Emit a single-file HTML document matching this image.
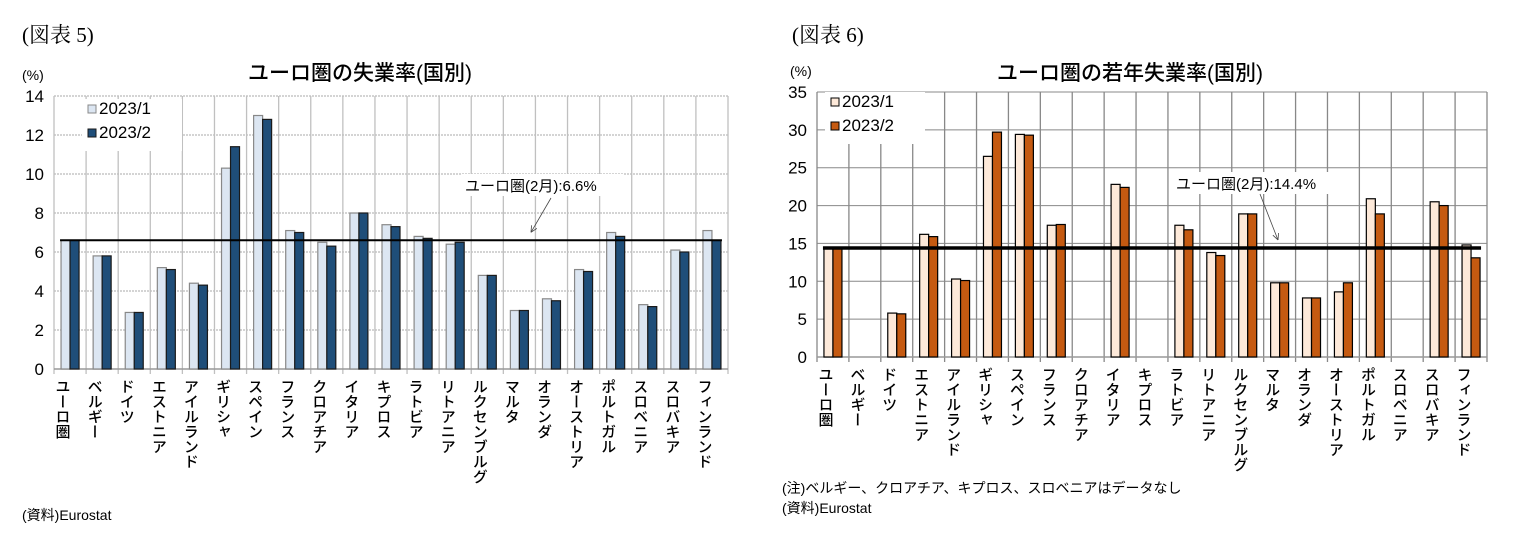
<!DOCTYPE html>
<html><head><meta charset="utf-8">
<style>
body{margin:0;background:#fff;width:1514px;height:544px;overflow:hidden;font-family:"Liberation Sans","Noto Sans CJK JP",sans-serif;}
svg{position:absolute;left:0;top:0}
</style></head>
<body>
<svg id="svg" width="1514" height="544">
<text x="22" y="42" font-family="'Liberation Serif','Noto Serif CJK SC',serif" font-size="21">(図表 5)</text>
<text x="792" y="42" font-family="'Liberation Serif','Noto Serif CJK SC',serif" font-size="21">(図表 6)</text>
<text x="360" y="80" text-anchor="middle" font-size="21" font-weight="500">ユーロ圏の失業率(国別)</text>
<text x="1130" y="80" text-anchor="middle" font-size="21" font-weight="500">ユーロ圏の若年失業率(国別)</text>
<text x="22" y="80" font-size="14">(%)</text>
<text x="790" y="76" font-size="14">(%)</text>
<text x="22" y="520" font-size="14">(資料)Eurostat</text>
<text x="782" y="493" font-size="14">(注)ベルギー、クロアチア、キプロス、スロベニアはデータなし</text>
<text x="782" y="513" font-size="14">(資料)Eurostat</text>
</svg>
<script>
const categories=["ユーロ圏","ベルギー","ドイツ","エストニア","アイルランド","ギリシャ","スペイン","フランス","クロアチア","イタリア","キプロス","ラトビア","リトアニア","ルクセンブルグ","マルタ","オランダ","オーストリア","ポルトガル","スロベニア","スロバキア","フィンランド"];
const leftJan=[6.6,5.8,2.9,5.2,4.4,10.3,13.0,7.1,6.5,8.0,7.4,6.8,6.4,4.8,3.0,3.6,5.1,7.0,3.3,6.1,7.1];
const leftFeb=[6.6,5.8,2.9,5.1,4.3,11.4,12.8,7.0,6.3,8.0,7.3,6.7,6.5,4.8,3.0,3.5,5.0,6.8,3.2,6.0,6.6];
const leftTicks=[0,2,4,6,8,10,12,14];
const leftAvg=6.6;
const rightJan=[14.4,null,5.8,16.2,10.3,26.5,29.4,17.4,null,22.8,null,17.4,13.8,18.9,9.8,7.8,8.6,20.9,null,20.5,14.8];
const rightFeb=[14.4,null,5.7,15.9,10.1,29.7,29.3,17.5,null,22.4,null,16.8,13.4,18.9,9.8,7.8,9.8,18.9,null,20.0,13.1];
const rightTicks=[0,5,10,15,20,25,30,35];
const rightAvg=14.4;

const svg=document.getElementById('svg');
const NS='http://www.w3.org/2000/svg';
function mk(tag,attrs,parent){const e=document.createElementNS(NS,tag);for(const k in attrs)e.setAttribute(k,attrs[k]);(parent||svg).appendChild(e);return e;}

function drawChart(o){
  const g=mk('g',{});
  
  
  const n=categories.length, slot=(o.x1-o.x0)/n;
  const y=v=>o.y0-(v-o.min)/(o.max-o.min)*(o.y0-o.y1);
  const xc=i=>o.x0+slot*(i+0.5);
  o.ticks.forEach(t=>{
    const l=mk('line',{x1:o.x0,x2:o.x1,y1:y(t),y2:y(t),stroke:o.hgrid,'stroke-width':1,'stroke-dasharray':o.dash},g);
    
    
    const tx=mk('text',{x:o.x0-10,y:y(t)+6,'text-anchor':'end','font-size':17},g);
    tx.textContent=t;
    
    
  });
  for(let i=0;i<=n;i++){
    const xx=o.x0+slot*i;
    const l=mk('line',{x1:xx,x2:xx,y1:o.y1,y2:o.y0+5,stroke:o.vgrid,'stroke-width':1.3},g);
    
    
  }
  mk('line',{x1:o.x0,x2:o.x1,y1:o.y0,y2:o.y0,stroke:'#999','stroke-width':1.5},g);
  const bw=9;
  categories.forEach((c,i)=>{
    [[o.jan,o.c1,-bw],[o.feb,o.c2,0]].forEach(([arr,col,off],k)=>{
      const v=arr[i]; if(v==null) return;
      const r=mk('rect',{x:xc(i)+off,y:y(v),width:bw,height:o.y0-y(v),fill:col,stroke:o.stroke[k],'stroke-width':1.2},g);
      
      
    });
    const t=mk('text',{x:xc(i)-8,y:o.y0+10,'font-size':15,'font-weight':'500'},g);
    t.textContent=c;
    t.style.writingMode='vertical-rl';
    
    
  });
  const al=mk('line',{x1:xc(0)-bw-1,x2:xc(n-1)+bw+1,y1:y(o.avg),y2:y(o.avg),stroke:'#000','stroke-width':o.avgW},g);
  
  
  mk('rect',{x:o.lx-4,y:o.ly-17,width:o.lw,height:22,fill:'#fff'},g);
  const at=mk('text',{x:o.lx,y:o.ly,'font-size':15},g);
  at.textContent=o.label;
  
  
  const ax2=o.ax2,ay2=y(o.avg)-8;
  const ar=mk('line',{x1:o.ax1,y1:o.ay1,x2:ax2,y2:ay2,stroke:'#444','stroke-width':0.8},g);
  
  
  const ang=Math.atan2(ay2-o.ay1,ax2-o.ax1);
  [0.45,-0.45].forEach(d=>mk('line',{x1:ax2,y1:ay2,x2:ax2-7*Math.cos(ang+d),y2:ay2-7*Math.sin(ang+d),stroke:'#444','stroke-width':0.8},g));
  const lg=mk('g',{},g);
  
  
  mk('rect',{x:o.legX-6,y:o.legY-14,width:100,height:52,fill:'#fff'},lg);
  [['2023/1',o.c1,o.stroke[0]],['2023/2',o.c2,o.stroke[1]]].forEach(([s,c,st],k)=>{
    const e=mk('g',{},lg);
    
    
    mk('rect',{x:o.legX,y:o.legY+k*24-8,width:8,height:8,fill:c,stroke:st,'stroke-width':1},e);
    const t=mk('text',{x:o.legX+11,y:o.legY+k*24+1,'font-size':17},e);
    t.textContent=s;
  });
}
drawChart({id:'left',x0:54,x1:728,y0:369,y1:96,min:0,max:14,ticks:leftTicks,jan:leftJan,feb:leftFeb,avg:leftAvg,
  c1:'#dce6f2',c2:'#1f4e79',stroke:['#888','#1a1a1a'],hgrid:'#aaa',dash:'2 1',vgrid:'#c0c0c0',avgW:2,
  label:'ユーロ圏(2月):6.6%',lx:465,ly:191,lw:162,ax1:551,ay1:198,ax2:531,legX:88,legY:113});
drawChart({id:'right',x0:817,x1:1487,y0:357,y1:92,min:0,max:35,ticks:rightTicks,jan:rightJan,feb:rightFeb,avg:rightAvg,
  c1:'#fde9d9',c2:'#c55a11',stroke:['#000','#000'],hgrid:'#888',dash:'none',vgrid:'#888',avgW:3.5,
  label:'ユーロ圏(2月):14.4%',lx:1176,ly:189,lw:168,ax1:1260,ay1:194,ax2:1278,legX:831,legY:106});
</script>
</body></html>
